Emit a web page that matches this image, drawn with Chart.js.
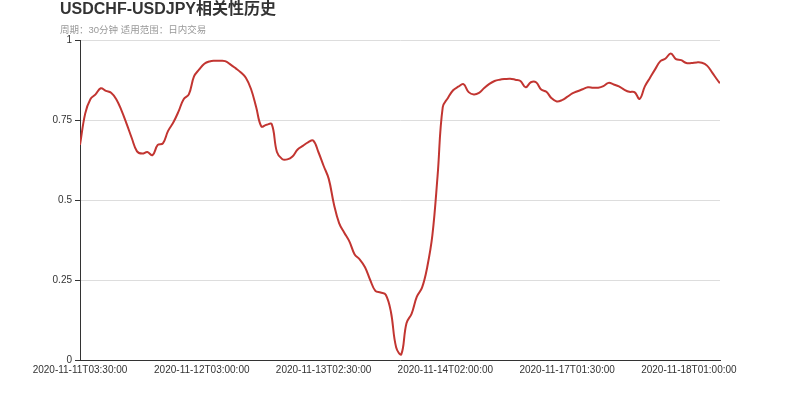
<!DOCTYPE html>
<html>
<head>
<meta charset="utf-8">
<script src="https://cdn.jsdelivr.net/npm/chart.js@4"></script>
<style>
  html, body { margin: 0; padding: 0; background: #fff; }
  #wrap { width: 800px; height: 400px; }
</style>
</head>
<body>
<div id="wrap"><canvas id="c"></canvas></div>
<script>
// chart text
const TITLE = 'USDCHF-USDJPY相关性历史';
const SUBTITLE = '周期：30分钟 适用范围：日内交易';

// x axis: half-hour bar index, labels shown every 47 bars
const TICK_BARS = [0, 47, 94, 141, 188, 235];
const TICK_LABELS = [
  '2020-11-11T03:30:00',
  '2020-11-12T03:00:00',
  '2020-11-13T02:30:00',
  '2020-11-14T02:00:00',
  '2020-11-17T01:30:00',
  '2020-11-18T01:00:00',
];
const LAST_BAR = 247;

// correlation, read every 2nd bar (bar 0, 2, 4, ... 246)
const CORR = [
  0.672, 0.77, 0.815, 0.83, 0.849, 0.841, 0.835, 0.815, 0.78, 0.738,
  0.693, 0.652, 0.645, 0.65, 0.64, 0.672, 0.677, 0.716, 0.742, 0.776,
  0.815, 0.83, 0.886, 0.908, 0.926, 0.933, 0.935, 0.935, 0.934, 0.924,
  0.912, 0.899, 0.882, 0.847, 0.79, 0.73, 0.735, 0.737, 0.65, 0.628,
  0.627, 0.636, 0.658, 0.669, 0.68, 0.686, 0.65, 0.607, 0.566, 0.487,
  0.428, 0.398, 0.37, 0.33, 0.314, 0.29, 0.25, 0.216, 0.211, 0.204,
  0.15, 0.04, 0.018, 0.115, 0.145, 0.198, 0.226, 0.29, 0.39, 0.575,
  0.79, 0.819, 0.843, 0.854, 0.862, 0.837, 0.83, 0.835, 0.85, 0.863,
  0.872, 0.876, 0.878, 0.879, 0.876, 0.872, 0.852, 0.868, 0.868, 0.845,
  0.838, 0.818, 0.808, 0.812, 0.822, 0.833, 0.84, 0.846, 0.852, 0.851,
  0.851, 0.856, 0.866, 0.861, 0.855, 0.845, 0.838, 0.837, 0.816, 0.855,
  0.882, 0.909, 0.934, 0.942, 0.958, 0.94, 0.937, 0.928, 0.928, 0.93,
  0.929, 0.92, 0.898, 0.875,
];
const CORR_LAST = 0.865; // value at LAST_BAR

const Y_TICKS = [0, 0.25, 0.5, 0.75, 1];

const FONT = "'Liberation Sans', Arial, sans-serif";

const points = CORR.map((v, i) => ({ x: i * 2, y: v }));
points.push({ x: LAST_BAR, y: CORR_LAST });

const headerPlugin = {
  id: 'header',
  beforeDraw(chart) {
    const ctx = chart.ctx;
    ctx.save();
    ctx.fillStyle = '#fff';
    ctx.fillRect(0, 0, chart.width, chart.height);
    ctx.restore();
  },
  afterDraw(chart) {
    const ctx = chart.ctx;
    ctx.save();
    ctx.textAlign = 'left';
    ctx.textBaseline = 'middle';
    ctx.fillStyle = '#333';
    ctx.font = "bold 16px 'Liberation Sans', Arial, 'Noto Sans CJK SC', sans-serif";
    ctx.fillText(TITLE, 60, 10);
    ctx.fillStyle = '#999';
    ctx.font = "9.5px 'Liberation Sans', Arial, 'Noto Sans CJK SC', sans-serif";
    ctx.fillText(SUBTITLE, 60, 30);
    ctx.restore();
  },
};

new Chart(document.getElementById('c'), {
  type: 'line',
  data: {
    datasets: [{
      data: points,
      borderColor: '#c23531',
      borderWidth: 2,
      pointRadius: 0,
      tension: 0.4,
      fill: false,
    }],
  },
  options: {
    responsive: true,
    maintainAspectRatio: false,
    animation: false,
    layout: { padding: { top: 40, right: 80, left: 0, bottom: 0 } },
    plugins: { legend: { display: false }, tooltip: { enabled: false } },
    scales: {
      x: {
        type: 'linear',
        min: 0,
        max: LAST_BAR,
        afterFit: s => { s.height = 40; },
        afterBuildTicks: s => { s.ticks = TICK_BARS.map(v => ({ value: v })); },
        grid: { display: true, color: 'rgba(0,0,0,0)', drawTicks: false },
        border: { display: true, color: '#333', width: 1 },
        ticks: {
          autoSkip: false,
          maxRotation: 0,
          padding: 4,
          color: '#333',
          font: { family: FONT, size: 10 },
          callback: v => TICK_LABELS[TICK_BARS.indexOf(v)] ?? '',
        },
      },
      y: {
        min: 0,
        max: 1,
        afterFit: s => { s.width = 80; },
        afterBuildTicks: s => { s.ticks = Y_TICKS.map(v => ({ value: v })); },
        grid: { color: '#ddd', tickColor: '#333', tickLength: 5 },
        border: { display: true, color: '#333', width: 1 },
        ticks: {
          padding: 3,
          color: '#333',
          font: { family: FONT, size: 10 },
          callback: v => String(v),
        },
      },
    },
  },
  plugins: [headerPlugin],
});
</script>
</body>
</html>
